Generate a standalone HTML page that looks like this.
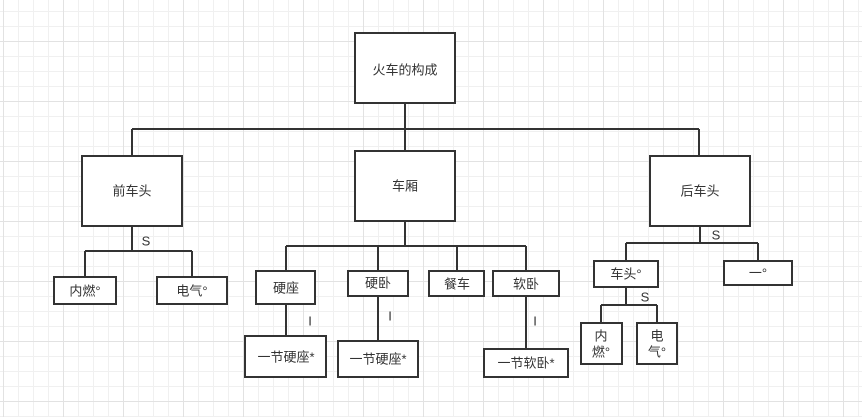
<!DOCTYPE html>
<html><head><meta charset="utf-8"><style>
html,body{margin:0;padding:0;background:#fff}
body{width:862px;height:417px;overflow:hidden;
background-image:
linear-gradient(#e2e2e2 1px,transparent 1px),
linear-gradient(90deg,#e2e2e2 1px,transparent 1px),
linear-gradient(#f0f0f0 1px,transparent 1px),
linear-gradient(90deg,#f0f0f0 1px,transparent 1px);
background-size:60px 60px,60px 60px,15px 15px,15px 15px;
background-position:0 41px,3px 0,0 11px,3px 0;}
svg{position:absolute;left:0;top:0}
text{font-family:"Liberation Sans","Noto Sans CJK SC",sans-serif;font-size:13px;fill:#333;text-anchor:middle;dominant-baseline:central}
</style></head><body>
<svg width="862" height="417" viewBox="0 0 862 417">
<g fill="#fff" stroke="#333" stroke-width="2">
<rect x="355" y="33" width="100" height="70"/>
<rect x="82" y="156" width="100" height="70"/>
<rect x="355" y="151" width="100" height="70"/>
<rect x="650" y="156" width="100" height="70"/>
<rect x="54" y="277" width="62" height="27"/>
<rect x="157" y="277" width="70" height="27"/>
<rect x="256" y="271" width="59" height="33"/>
<rect x="348" y="271" width="60" height="25"/>
<rect x="429" y="271" width="55" height="25"/>
<rect x="493" y="271" width="66" height="25"/>
<rect x="245" y="336" width="81" height="41"/>
<rect x="338" y="341" width="80" height="36"/>
<rect x="484" y="349" width="84" height="28"/>
<rect x="594" y="261" width="64" height="26"/>
<rect x="724" y="261" width="68" height="24"/>
<rect x="581" y="323" width="41" height="41"/>
<rect x="637" y="323" width="40" height="41"/>
</g>
<g fill="none" stroke="#333" stroke-width="2">
<path d="M405 103V129M132 129H699M132 129V156M405 129V151M699 129V156"/>
<path d="M132 226V251M85 251H192M85 251V277M192 251V277"/>
<path d="M405 221V246M286 246H526M286 246V271M378 246V271M457 246V271M526 246V271"/>
<path d="M286 304V336M378 296V341M526 296V349"/>
<path d="M700 226V243M626 243H758M626 243V261M758 243V261"/>
<path d="M626 287V305M601 305H657M601 305V323M657 305V323"/>
</g>
<text x="405" y="70">火车的构成</text>
<text x="132" y="191">前车头</text>
<text x="405" y="186">车厢</text>
<text x="700" y="191">后车头</text>
<text x="146" y="241">S</text>
<text x="85" y="291">内燃°</text>
<text x="192" y="291">电气°</text>
<text x="286" y="288">硬座</text>
<text x="378" y="283">硬卧</text>
<text x="457" y="284">餐车</text>
<text x="526" y="284">软卧</text>
<text x="310" y="321">I</text>
<text x="390" y="316">I</text>
<text x="535" y="321">I</text>
<text x="286" y="357">一节硬座*</text>
<text x="378" y="359">一节硬座*</text>
<text x="526" y="363">一节软卧*</text>
<text x="716" y="235">S</text>
<text x="626" y="274">车头°</text>
<text x="758" y="273">一°</text>
<text x="645" y="297">S</text>
<text x="601" y="336">内</text>
<text x="601" y="352">燃°</text>
<text x="657" y="336">电</text>
<text x="657" y="352">气°</text>
</svg>
</body></html>
